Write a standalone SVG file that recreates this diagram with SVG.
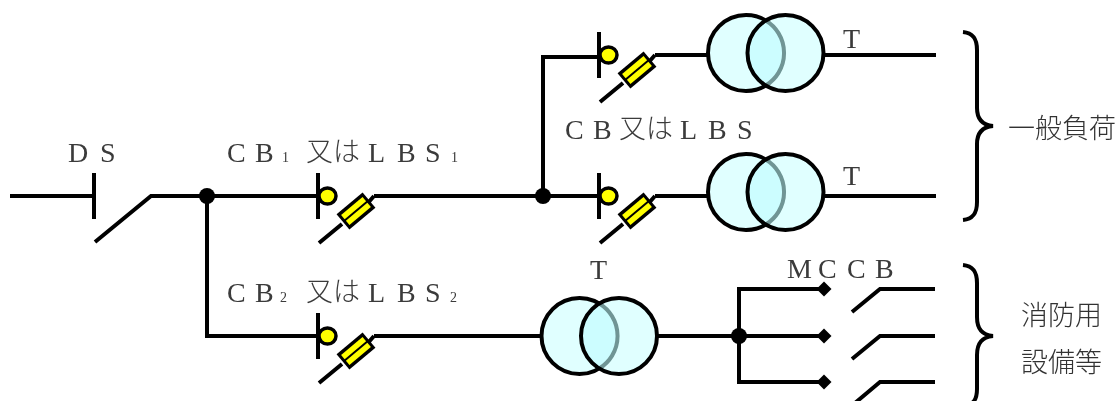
<svg xmlns="http://www.w3.org/2000/svg" width="1120" height="401" viewBox="0 0 1120 401">
<style>
.w{fill:none;stroke:#000;stroke-width:4;stroke-linecap:butt;stroke-linejoin:miter}
.l{font-family:"Liberation Serif",serif;font-size:28px;fill:#3a3a3a}
.s{font-family:"Liberation Serif",serif;font-size:14px;fill:#3a3a3a}
.j{font-family:"Noto Sans CJK JP",sans-serif;font-size:27px;font-weight:300;fill:#3a3a3a}
.g{font-family:"Noto Sans CJK JP",sans-serif;font-size:27px;font-weight:300;fill:#333}
.d{fill:#000}
</style>
<defs>
<filter id="soft" filterUnits="userSpaceOnUse" x="0" y="0" width="1120" height="401"><feGaussianBlur stdDeviation="0.45"/></filter>
<g id="breaker">
<path class="w" d="M0-23V23"/>
<ellipse cx="9.5" cy="0" rx="8.5" ry="8" fill="#ffff00" stroke="#000" stroke-width="3.5"/>
<path class="w" d="M1 47L24 28M49 8L56 0"/>
<g transform="translate(38 15) rotate(-40)">
<rect x="-17" y="-10" width="34" height="20" fill="#000"/>
<rect x="-14" y="-6.5" width="28" height="5.5" fill="#ffff00"/>
<rect x="-14" y="1" width="28" height="5.5" fill="#ffff00"/>
</g>
</g>
<g id="transformer">
<circle cx="0" cy="0" r="38" fill="#e0ffff" stroke="#000" stroke-width="4"/>
<circle cx="39.5" cy="0" r="38" fill="#e0ffff"/>
<path d="M19.75-32.5A38 38 0 0 0 19.75 32.5A38 38 0 0 0 19.75-32.5Z" fill="#ccfdff"/>
<path d="M19.75-32.5A38 38 0 0 1 19.75 32.5" fill="none" stroke="#6f9595" stroke-width="4"/>
<circle cx="39.5" cy="0" r="38" fill="none" stroke="#000" stroke-width="4"/>
</g>
<path id="dia" d="M-7.5 0L0-7.5L7.5 0L0 7.5Z"/>
</defs>
<g filter="url(#soft)">
<g id="connectors">
<path class="w" d="M10 196H94"/>
<path class="w" d="M95 242L151 196H318"/>
<path class="w" d="M207 196V336H318"/>
<path class="w" d="M374 196H599"/>
<path class="w" d="M543 196V57H599"/>
<path class="w" d="M655 55H708M825 55H936"/>
<path class="w" d="M655 196H708M825 196H936"/>
<path class="w" d="M374 336H543M657 336H824"/>
<path class="w" d="M824 289H739V382H824"/>
<path class="w" d="M852 312L880 289H935M852 359L880 336H935M855 403L880 382H935"/>
<path class="w" d="M963 32C974 33 977 40 977 50V108C977 119 982 125 993 126C982 127 977 133 977 144V202C977 212 974 219 963 220"/>
<path class="w" d="M963 265C974 266 977 273 977 283V317C977 329 982 335 993 336C982 337 977 343 977 355V389C977 399 974 405 963 406"/>
</g>
<g id="DS"><path class="w" d="M94 173V219"/><text class="l" x="68 100" y="162">DS</text></g>
<g id="junction1"><circle class="d" cx="207" cy="196" r="8"/></g>
<g id="junction2"><circle class="d" cx="543" cy="196" r="8"/></g>
<g id="junction3"><circle class="d" cx="739" cy="336" r="8"/></g>
<g id="CB1"><use href="#breaker" x="318" y="196"/>
<text class="l" x="227 255" y="162">CB</text><text class="s" x="282" y="162">1</text>
<text class="j" x="306" y="161">又は</text>
<text class="l" x="368 397 425" y="162">LBS</text><text class="s" x="451" y="162">1</text></g>
<g id="CB2"><use href="#breaker" x="318" y="336"/>
<text class="l" x="227 255" y="302">CB</text><text class="s" x="280" y="302">2</text>
<text class="j" x="306" y="301">又は</text>
<text class="l" x="368 397 425" y="302">LBS</text><text class="s" x="450" y="302">2</text></g>
<g id="CB3"><use href="#breaker" x="599" y="55"/><use href="#breaker" x="599" y="196"/>
<text class="l" x="565 593" y="139">CB</text><text class="j" x="619" y="138">又は</text><text class="l" x="680 708 737" y="139">LBS</text></g>
<g id="T1"><use href="#transformer" x="746" y="53"/><text class="l" x="843" y="48">T</text></g>
<g id="T2"><use href="#transformer" x="746" y="192"/><text class="l" x="843" y="185">T</text></g>
<g id="T3"><use href="#transformer" x="579.5" y="336"/><text class="l" x="590" y="279">T</text></g>
<g id="MCCB"><use href="#dia" x="824" y="289"/><use href="#dia" x="824" y="336"/><use href="#dia" x="824" y="382"/>
<text class="l" x="787 818 847 875" y="278">MCCB</text></g>
<g id="load1"><text class="g" x="1008" y="138" textLength="108">一般負荷</text></g>
<g id="load2"><text class="g" x="1021" y="325">消防用</text><text class="g" x="1021" y="372">設備等</text></g>
</g>
</svg>
